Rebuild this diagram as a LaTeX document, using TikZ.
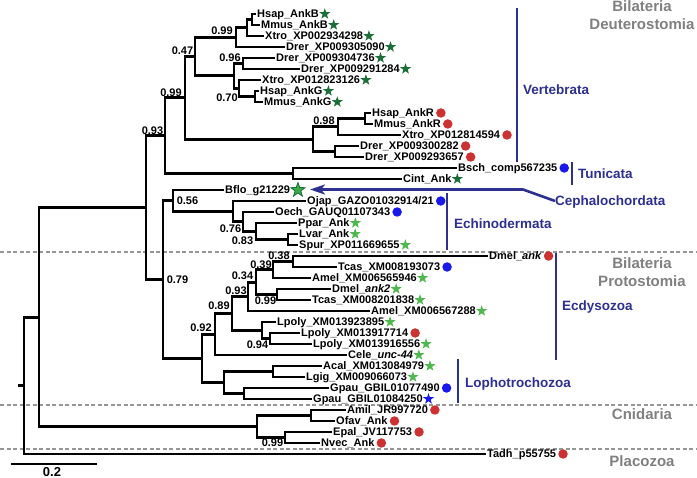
\documentclass[tikz,border=0pt]{standalone}
\usepackage{fontspec}
\setmainfont{Liberation Sans}
\usetikzlibrary{shapes.geometric,arrows.meta}
\definecolor{stardk}{RGB}{27,110,55}
\definecolor{starlt}{RGB}{78,184,78}
\definecolor{bflofill}{RGB}{60,170,70}
\definecolor{symred}{RGB}{205,50,50}
\definecolor{symblue}{RGB}{25,25,235}
\definecolor{navy}{RGB}{45,48,145}
\definecolor{grp}{RGB}{128,128,128}
\definecolor{dashc}{RGB}{150,150,150}
\begin{document}
\begin{tikzpicture}[x=1pt,y=-1pt,
 br/.style={line width=2.9pt, line cap=butt, line join=miter},
 leaf/.style={anchor=west, inner xsep=1pt, inner ysep=0pt, text height=7.9pt, text depth=0pt, font=\fontsize{11}{12}\selectfont\bfseries},
 sup/.style={inner sep=0pt, text height=7.9pt, text depth=0pt, font=\fontsize{11}{12}\selectfont\bfseries},
 symc/.style={circle, inner sep=0pt, minimum size=9.5pt, text height=0pt, text depth=0pt, label distance=0.8pt},
 syms/.style={star, star points=5, star point ratio=2.5, inner sep=0pt, minimum size=11.5pt, text height=0pt, text depth=0pt, label distance=1.2pt},
 R/.style={label={[symc, fill=symred]0:{}}},
 B/.style={label={[symc, fill=symblue]0:{}}},
 SD/.style={label={[syms, fill=stardk]0:{}}},
 SL/.style={label={[syms, fill=starlt]0:{}}},
 SB/.style={label={[syms, fill=symblue]0:{}}},
 SF/.style={label={[syms, minimum size=15pt, fill=bflofill, draw=stardk, line width=0.8pt, label distance=2pt]0:{}}},
 cladebar/.style={line width=2.6pt, draw=navy},
 clade/.style={anchor=west, inner sep=0pt, text height=9.7pt, text depth=0pt, text=navy, font=\fontsize{13.5}{15}\selectfont\bfseries},
 grplab/.style={inner sep=0pt, text height=10.7pt, text depth=0pt, text=grp, font=\fontsize{15}{17}\selectfont\bfseries},
 sep/.style={draw=dashc, line width=1.3pt, dash pattern=on 4pt off 2.5pt}
]
\useasboundingbox (0,0) rectangle (697,478);

% dashed separators
\coordinate (d1a) at (0,252); \coordinate (d1b) at (697,252);
\coordinate (d2a) at (0,405); \coordinate (d2b) at (697,405);
\coordinate (d3a) at (0,449); \coordinate (d3b) at (697,449);
\draw[sep] (d1a) -- (d1b);
\draw[sep] (d2a) -- (d2b);
\draw[sep] (d3a) -- (d3b);

% leaves
\node[leaf,SD] (l0) at (256,14) {Hsap\_AnkB};
\node[leaf,SD] (l1) at (260,25) {Mmus\_AnkB};
\node[leaf,SD] (l2) at (264,36) {Xtro\_XP002934298};
\node[leaf,SD] (l3) at (285,47) {Drer\_XP009305090};
\node[leaf,SD] (l4) at (275,58) {Drer\_XP009304736};
\node[leaf,SD] (l5) at (300,69) {Drer\_XP009291284};
\node[leaf,SD] (l6) at (261,80) {Xtro\_XP012823126};
\node[leaf,SD] (l7) at (259,91) {Hsap\_AnkG};
\node[leaf,SD] (l8) at (263,102) {Mmus\_AnkG};
\node[leaf,R] (l9) at (371,113) {Hsap\_AnkR};
\node[leaf,R] (l10) at (373,124) {Mmus\_AnkR};
\node[leaf,R] (l11) at (401,135) {Xtro\_XP012814594};
\node[leaf,R] (l12) at (359,146) {Drer\_XP009300282};
\node[leaf,R] (l13) at (364,157) {Drer\_XP009293657};
\node[leaf,B] (l14) at (457,168) {Bsch\_comp567235};
\node[leaf,SD] (l15) at (402,179) {Cint\_Ank};
\node[leaf,SF] (l16) at (224,190) {Bflo\_g21229};
\node[leaf,B] (l17) at (306,201) {Ojap\_GAZO01032914/21};
\node[leaf,B] (l18) at (274,212) {Oech\_GAUQ01107343};
\node[leaf,SL] (l19) at (297,223) {Ppar\_Ank};
\node[leaf,SL] (l20) at (298,234) {Lvar\_Ank};
\node[leaf,SL] (l21) at (298,245) {Spur\_XP011669655};
\node[leaf,R] (l22) at (488,256) {Dmel\_\textit{ank}};
\node[leaf,B] (l23) at (337,267) {Tcas\_XM008193073};
\node[leaf,SL] (l24) at (311,278) {Amel\_XM006565946};
\node[leaf,SL] (l25) at (331,289) {Dmel\_\textit{ank2}};
\node[leaf,SL] (l26) at (311,300) {Tcas\_XM008201838};
\node[leaf,SL] (l27) at (370,311) {Amel\_XM006567288};
\node[leaf,SL] (l28) at (276,322) {Lpoly\_XM013923895};
\node[leaf,R] (l29) at (300,333) {Lpoly\_XM013917714};
\node[leaf,SL] (l30) at (312,344) {Lpoly\_XM013916556};
\node[leaf,SL] (l31) at (347,355) {Cele\_\textit{unc-44}};
\node[leaf,SL] (l32) at (322,366) {Acal\_XM013084979};
\node[leaf,SL] (l33) at (305,377) {Lgig\_XM009066073};
\node[leaf,B] (l34) at (329,388) {Gpau\_GBIL01077490};
\node[leaf,SB] (l35) at (312,399) {Gpau\_GBIL01084250};
\node[leaf,R] (l36) at (346,410) {Amil\_JR997720};
\node[leaf,R] (l37) at (335,421) {Ofav\_Ank};
\node[leaf,R] (l38) at (332,432) {Epal\_JV117753};
\node[leaf,R] (l39) at (320,443) {Nvec\_Ank};
\node[leaf,R] (l40) at (486,454) {Tadh\_p55755};

% internal nodes
\coordinate (nAB) at (252,19.5);
\coordinate (nABX) at (247,27.75);
\coordinate (nAB99) at (236,37.4);
\coordinate (nDD) at (243,63.5);
\coordinate (nG) at (255,96.5);
\coordinate (nXG) at (239,88.25);
\coordinate (nDXG) at (234,75.9);
\coordinate (n47) at (195,56.6);
\coordinate (nR) at (365,118.5);
\coordinate (nRX) at (338,126.75);
\coordinate (nRD) at (335,151.5);
\coordinate (nRR) at (313,139.1);
\coordinate (nVert) at (185,97.9);
\coordinate (nTun) at (293,173.5);
\coordinate (nOlf) at (165,135.7);
\coordinate (nLS) at (288,239.5);
\coordinate (nPLS) at (256,231.25);
\coordinate (nOPLS) at (243,221.6);
\coordinate (nEch) at (233,211.3);
\coordinate (nAmb) at (173,200.6);
\coordinate (nDT) at (293,261.5);
\coordinate (nDTA) at (273,269.75);
\coordinate (nDT2) at (277,294.5);
\coordinate (n34) at (256,282.1);
\coordinate (n93) at (248,296.6);
\coordinate (nLp2) at (270,338.5);
\coordinate (nLp3) at (262,330.25);
\coordinate (n89) at (232,313.4);
\coordinate (nEcd) at (215,334.2);
\coordinate (nAL) at (273,371.5);
\coordinate (nGG) at (244,393.5);
\coordinate (nLoph) at (224,382.5);
\coordinate (nProt) at (202,358.35);
\coordinate (nBil) at (163,279.5);
\coordinate (nBA) at (146,207.6);
\coordinate (nAO) at (311,415.5);
\coordinate (nEN) at (285,437.5);
\coordinate (nCn) at (257,426.5);
\coordinate (nX) at (39,317.2);
\coordinate (nRoot) at (24,385.6);
\coordinate (stub) at (18,385.6);

% branches
\draw[br] (nAB) |- (l0.west); \draw[br] (nAB) |- (l1.west);
\draw[br] (nABX) |- (nAB); \draw[br] (nABX) |- (l2.west);
\draw[br] (nAB99) |- (nABX); \draw[br] (nAB99) |- (l3.west);
\draw[br] (nDD) |- (l4.west); \draw[br] (nDD) |- (l5.west);
\draw[br] (nG) |- (l7.west); \draw[br] (nG) |- (l8.west);
\draw[br] (nXG) |- (l6.west); \draw[br] (nXG) |- (nG);
\draw[br] (nDXG) |- (nDD); \draw[br] (nDXG) |- (nXG);
\draw[br] (n47) |- (nAB99); \draw[br] (n47) |- (nDXG);
\draw[br] (nR) |- (l9.west); \draw[br] (nR) |- (l10.west);
\draw[br] (nRX) |- (nR); \draw[br] (nRX) |- (l11.west);
\draw[br] (nRD) |- (l12.west); \draw[br] (nRD) |- (l13.west);
\draw[br] (nRR) |- (nRX); \draw[br] (nRR) |- (nRD);
\draw[br] (nVert) |- (n47); \draw[br] (nVert) |- (nRR);
\draw[br] (nTun) |- (l14.west); \draw[br] (nTun) |- (l15.west);
\draw[br] (nOlf) |- (nVert); \draw[br] (nOlf) |- (nTun);
\draw[br] (nLS) |- (l20.west); \draw[br] (nLS) |- (l21.west);
\draw[br] (nPLS) |- (l19.west); \draw[br] (nPLS) |- (nLS);
\draw[br] (nOPLS) |- (l18.west); \draw[br] (nOPLS) |- (nPLS);
\draw[br] (nEch) |- (l17.west); \draw[br] (nEch) |- (nOPLS);
\draw[br] (nAmb) |- (l16.west); \draw[br] (nAmb) |- (nEch);
\draw[br] (nDT) |- (l22.west); \draw[br] (nDT) |- (l23.west);
\draw[br] (nDTA) |- (nDT); \draw[br] (nDTA) |- (l24.west);
\draw[br] (nDT2) |- (l25.west); \draw[br] (nDT2) |- (l26.west);
\draw[br] (n34) |- (nDTA); \draw[br] (n34) |- (nDT2);
\draw[br] (n93) |- (n34); \draw[br] (n93) |- (l27.west);
\draw[br] (nLp2) |- (l29.west); \draw[br] (nLp2) |- (l30.west);
\draw[br] (nLp3) |- (l28.west); \draw[br] (nLp3) |- (nLp2);
\draw[br] (n89) |- (n93); \draw[br] (n89) |- (nLp3);
\draw[br] (nEcd) |- (n89); \draw[br] (nEcd) |- (l31.west);
\draw[br] (nAL) |- (l32.west); \draw[br] (nAL) |- (l33.west);
\draw[br] (nGG) |- (l34.west); \draw[br] (nGG) |- (l35.west);
\draw[br] (nLoph) |- (nAL); \draw[br] (nLoph) |- (nGG);
\draw[br] (nProt) |- (nEcd); \draw[br] (nProt) |- (nLoph);
\draw[br] (nBil) |- (nAmb); \draw[br] (nBil) |- (nProt);
\draw[br] (nBA) |- (nOlf); \draw[br] (nBA) |- (nBil);
\draw[br] (nAO) |- (l36.west); \draw[br] (nAO) |- (l37.west);
\draw[br] (nEN) |- (l38.west); \draw[br] (nEN) |- (l39.west);
\draw[br] (nCn) |- (nAO); \draw[br] (nCn) |- (nEN);
\draw[br] (nX) |- (nBA); \draw[br] (nX) |- (nCn);
\draw[br] (nRoot) |- (nX); \draw[br] (nRoot) |- (l40.west);
\draw[br] (stub) -- (nRoot);

% support values
\node[sup] (s1) at (222,31) {0.99};
\node[sup] (s2) at (230,58) {0.96};
\node[sup] (s3) at (227,97.5) {0.70};
\node[sup] (s4) at (182.5,51) {0.47};
\node[sup] (s5) at (171,92.5) {0.99};
\node[sup] (s6) at (152.5,131) {0.93};
\node[sup] (s7) at (324,121) {0.98};
\node[sup] (s8) at (187.5,201) {0.56};
\node[sup] (s9) at (230.5,229) {0.76};
\node[sup] (s10) at (242.5,241) {0.83};
\node[sup] (s11) at (279,255.5) {0.38};
\node[sup] (s12) at (261,264.5) {0.39};
\node[sup] (s13) at (242.5,275.5) {0.34};
\node[sup] (s14) at (236,290.5) {0.93};
\node[sup] (s15) at (265.5,301) {0.99};
\node[sup] (s16) at (219,306) {0.89};
\node[sup] (s17) at (201,328) {0.92};
\node[sup] (s18) at (257.5,344.5) {0.94};
\node[sup] (s19) at (177.5,279.5) {0.79};
\node[sup] (s20) at (272.5,443) {0.99};

% scale bar
\coordinate (sb1) at (11,464); \coordinate (sb2) at (97,464);
\draw[br] (sb1) -- (sb2);
\node[inner sep=0pt, text height=9.3pt, text depth=0pt, font=\fontsize{13}{14}\selectfont\bfseries] (sbl) at (52,471.5) {0.2};

% clade bars and labels
\draw[cladebar] (517,8) -- (517,162);
\node[clade] (cv) at (523,90) {Vertebrata};
\draw[cladebar] (572,162) -- (572,185);
\node[clade] (ct) at (578,174) {Tunicata};
\draw[cladebar] (447,193) -- (447,250);
\node[clade] (ce) at (454,224) {Echinodermata};
\draw[cladebar] (556,253) -- (556,360);
\node[clade] (cd) at (562,306) {Ecdysozoa};
\draw[cladebar] (458,359) -- (458,403);
\node[clade] (cl) at (465,383) {Lophotrochozoa};
\node[clade] (cc) at (555,201) {Cephalochordata};
\coordinate (cbend) at (523,189.5);
\coordinate (ctip) at (310,189.5);
\draw[cladebar, line join=round, -{Stealth[length=15pt,width=10pt,inset=4pt]}] (cc.west) -- (cbend) -- (ctip);

% group labels
\node[grplab] (g1) at (642,6) {Bilateria};
\node[grplab] (g2) at (642,24) {Deuterostomia};
\node[grplab] (g3) at (642,263) {Bilateria};
\node[grplab] (g4) at (642,281) {Protostomia};
\node[grplab] (g5) at (642,414) {Cnidaria};
\node[grplab] (g6) at (642,461) {Placozoa};
\end{tikzpicture}
\end{document}
